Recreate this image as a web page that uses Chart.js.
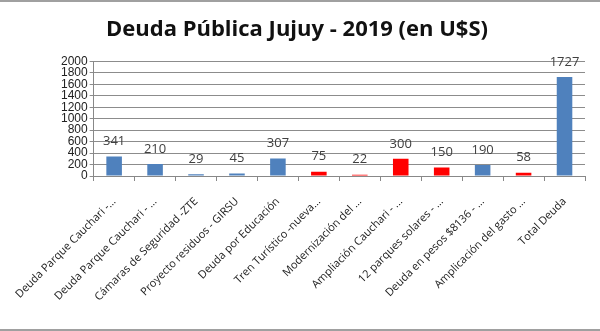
<!DOCTYPE html>
<html lang="es">
<head>
<meta charset="utf-8" />
<title>Deuda Pública Jujuy - 2019</title>
<script src="https://cdn.jsdelivr.net/npm/chart.js@4.4.1/dist/chart.umd.min.js"></script>
<style>
  html, body { margin: 0; padding: 0; background: #fff; }
  #wrap { position: relative; width: 600px; height: 331px; box-sizing: border-box;
          border-top: 2px solid #a0a0a0; border-bottom: 2px solid #a0a0a0; }
  #chart { display: block; }
</style>
</head>
<body>
<div id="wrap">
  <canvas id="chart" width="600" height="327"></canvas>
</div>
<script>
var categories = [
  "Deuda Parque Cauchari -...",
  "Deuda Parque Cauchari - ...",
  "Cámaras de Seguridad -ZTE",
  "Proyecto residuos - GIRSU",
  "Deuda por Educación",
  "Tren Turístico -nueva...",
  "Modernización del ...",
  "Ampliación Cauchari - ...",
  "12 parques solares - ...",
  "Deuda en pesos $8136 - ...",
  "Amplicación del gasto ...",
  "Total Deuda"
];
var values = [341, 210, 29, 45, 307, 75, 22, 300, 150, 190, 58, 1727];
var isNew = [false, false, false, false, false, true, true, true, true, false, true, false];
var yTicks = [0, 200, 400, 600, 800, 1000, 1200, 1400, 1600, 1800, 2000];

var blue = '#4f81bd';
var red = '#ff0000';

// value labels above bars
var barLabels = {
  id: 'barLabels',
  afterDatasetsDraw: function(chart) {
    var ctx = chart.ctx;
    var meta = chart.getDatasetMeta(0);
    ctx.save();
    ctx.font = '13px "Open Sans", sans-serif';
    ctx.fillStyle = '#404040';
    ctx.textAlign = 'center';
    ctx.textBaseline = 'middle';
    meta.data.forEach(function(bar, i) {
      ctx.fillText(String(values[i]), bar.x, bar.y - 15);
    });
    ctx.restore();
  }
};

new Chart(document.getElementById('chart').getContext('2d'), {
  type: 'bar',
  data: {
    labels: categories,
    datasets: [{
      data: values,
      backgroundColor: isNew.map(function(n) { return n ? red : blue; }),
      barPercentage: 0.38,
      categoryPercentage: 1
    }]
  },
  options: {
    responsive: false,
    animation: false,
    layout: { padding: { left: 9, right: 15, top: 0, bottom: 0 } },
    plugins: {
      legend: { display: false },
      tooltip: { enabled: false },
      title: {
        display: true,
        text: 'Deuda Pública Jujuy - 2019 (en U$S)',
        color: '#111',
        font: { family: '"Open Sans", sans-serif', size: 22, weight: 'bold', lineHeight: 1.2 },
        padding: { top: 15, bottom: 18 }
      }
    },
    scales: {
      x: {
        grid: { offset: true, drawOnChartArea: false, color: '#888', tickLength: 5 },
        border: { color: '#888' },
        ticks: {
          maxRotation: 45, minRotation: 45, autoSkip: false,
          color: '#222', padding: 14,
          font: { family: '"Open Sans", sans-serif', size: 11 }
        },
        afterFit: function(s) { s.height = 153; }
      },
      y: {
        min: 0, max: 2000,
        afterBuildTicks: function(s) { s.ticks = yTicks.map(function(v) { return { value: v }; }); },
        grid: { color: '#8c8c8c', lineWidth: 1, tickLength: 4 },
        border: { color: '#888' },
        ticks: {
          color: '#222', autoSkip: false, padding: 2,
          font: { family: '"Liberation Sans", Arial, sans-serif', size: 12 },
          callback: function(v) { return String(v); }
        },
        afterFit: function(s) { s.width = 76; }
      }
    }
  },
  plugins: [barLabels]
});
</script>
</body>
</html>
